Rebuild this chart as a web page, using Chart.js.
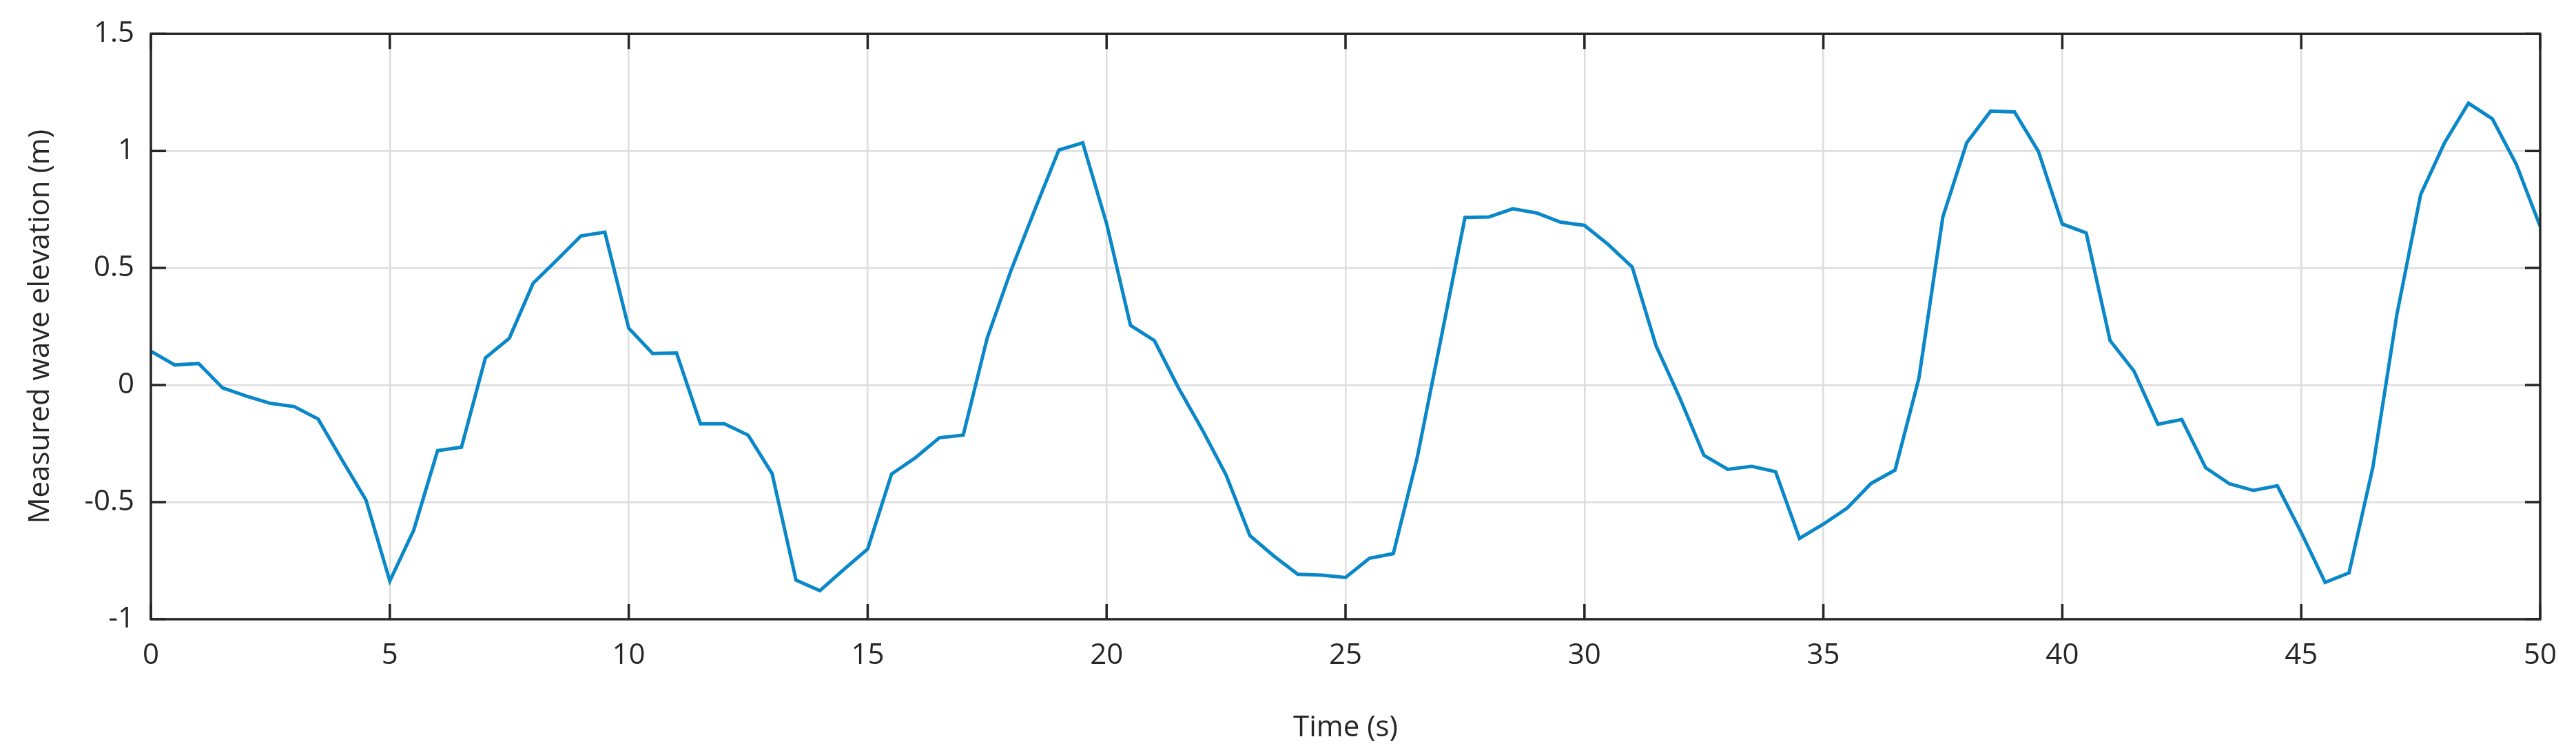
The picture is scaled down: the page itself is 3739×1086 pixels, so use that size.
<!DOCTYPE html>
<html>
<head>
<meta charset="utf-8">
<script src="https://cdn.jsdelivr.net/npm/chart.js@4"></script>
<style>
  html, body { margin: 0; padding: 0; background: #fff; }
  #wrap { width: 3739px; height: 1086px; }
</style>
</head>
<body>
<div id="wrap"><canvas id="waveChart" width="3739" height="1086"></canvas></div>
<script>
// time in seconds, sampled every 0.5 s
const times = [
    0, 0.5, 1, 1.5, 2, 2.5, 3, 3.5, 4, 4.5, 5, 5.5, 6, 6.5, 7, 7.5, 8, 8.5, 9, 9.5,
    10, 10.5, 11, 11.5, 12, 12.5, 13, 13.5, 14, 14.5, 15, 15.5, 16, 16.5, 17, 17.5, 18, 18.5, 19, 19.5,
    20, 20.5, 21, 21.5, 22, 22.5, 23, 23.5, 24, 24.5, 25, 25.5, 26, 26.5, 27, 27.5, 28, 28.5, 29, 29.5,
    30, 30.5, 31, 31.5, 32, 32.5, 33, 33.5, 34, 34.5, 35, 35.5, 36, 36.5, 37, 37.5, 38, 38.5, 39, 39.5,
    40, 40.5, 41, 41.5, 42, 42.5, 43, 43.5, 44, 44.5, 45, 45.5, 46, 46.5, 47, 47.5, 48, 48.5, 49, 49.5, 50
];
// measured wave elevation (m)
const elevation = [
    0.145, 0.086, 0.092, -0.012, -0.047, -0.078, -0.092, -0.145, -0.32, -0.49,
    -0.837, -0.62, -0.28, -0.265, 0.116, 0.20, 0.435, 0.535, 0.637, 0.653,
    0.243, 0.135, 0.137, -0.165, -0.165, -0.214, -0.378, -0.833, -0.878, -0.788,
    -0.70, -0.38, -0.31, -0.225, -0.214, 0.20, 0.49, 0.75, 1.004, 1.035,
    0.69, 0.255, 0.19, -0.01, -0.19, -0.384, -0.643, -0.73, -0.808, -0.812,
    -0.822, -0.74, -0.72, -0.31, 0.20, 0.716, 0.718, 0.753, 0.735, 0.696,
    0.682, 0.60, 0.504, 0.167, -0.057, -0.30, -0.36, -0.347, -0.37, -0.655,
    -0.594, -0.525, -0.42, -0.363, 0.03, 0.718, 1.035, 1.17, 1.167, 0.998,
    0.688, 0.65, 0.19, 0.06, -0.167, -0.147, -0.353, -0.422, -0.45, -0.43,
    -0.63, -0.843, -0.802, -0.35, 0.30, 0.814, 1.035, 1.204, 1.137, 0.943,
    0.678
];
const xTicks = [0, 5, 10, 15, 20, 25, 30, 35, 40, 45, 50];
const yTicks = [-1, -0.5, 0, 0.5, 1, 1.5];

const fontFamily = "'Open Sans', 'Noto Sans', sans-serif";
const axisColor = '#262626';

// MATLAB style box with inward ticks on all four sides
const boxTicks = {
    id: 'boxTicks',
    afterDatasetsDraw(chart) {
        const c = chart.ctx;
        const a = chart.chartArea;
        const xs = chart.scales.x, ys = chart.scales.y;
        const len = 22;
        c.save();
        c.strokeStyle = axisColor;
        c.lineWidth = 3.5;
        c.strokeRect(a.left, a.top, a.right - a.left, a.bottom - a.top);
        c.beginPath();
        xTicks.forEach(v => {
            const px = xs.getPixelForValue(v);
            c.moveTo(px, a.bottom); c.lineTo(px, a.bottom - len);
            c.moveTo(px, a.top); c.lineTo(px, a.top + len);
        });
        yTicks.forEach(v => {
            const py = ys.getPixelForValue(v);
            c.moveTo(a.left, py); c.lineTo(a.left + len, py);
            c.moveTo(a.right, py); c.lineTo(a.right - len, py);
        });
        c.stroke();
        c.restore();
    }
};

new Chart(document.getElementById('waveChart').getContext('2d'), {
    type: 'line',
    data: {
        datasets: [{
            data: times.map((t, i) => ({ x: t, y: elevation[i] })),
            borderColor: '#0a87c8',
            borderWidth: 5,
            pointRadius: 0,
            tension: 0,
            fill: false
        }]
    },
    options: {
        responsive: false,
        animation: false,
        layout: { padding: { left: 30, top: 48, right: 44, bottom: 0 } },
        plugins: { legend: { display: false }, tooltip: { enabled: false } },
        scales: {
            x: {
                type: 'linear',
                min: 0, max: 50,
                afterBuildTicks: s => { s.ticks = xTicks.map(v => ({ value: v })); },
                afterFit: s => { s.height = 187; },
                grid: { color: '#dddddd', lineWidth: 2.5, drawTicks: false },
                border: { display: false },
                ticks: { color: axisColor, padding: 28, font: { family: fontFamily, size: 42 }, callback: v => String(v) },
                title: { display: true, text: 'Time (s)', color: axisColor, padding: { top: 14 }, font: { family: fontFamily, size: 42 } }
            },
            y: {
                min: -1, max: 1.5,
                afterBuildTicks: s => { s.ticks = yTicks.map(v => ({ value: v })); },
                afterFit: s => { s.width = 189; },
                grid: { color: '#dddddd', lineWidth: 2.5, drawTicks: false },
                border: { display: false },
                ticks: { color: axisColor, padding: 24, font: { family: fontFamily, size: 42 }, callback: v => String(v) },
                title: { display: true, text: 'Measured wave elevation (m)', color: axisColor, padding: { bottom: 8 }, font: { family: fontFamily, size: 42 } }
            }
        }
    },
    plugins: [boxTicks]
});
</script>
</body>
</html>
